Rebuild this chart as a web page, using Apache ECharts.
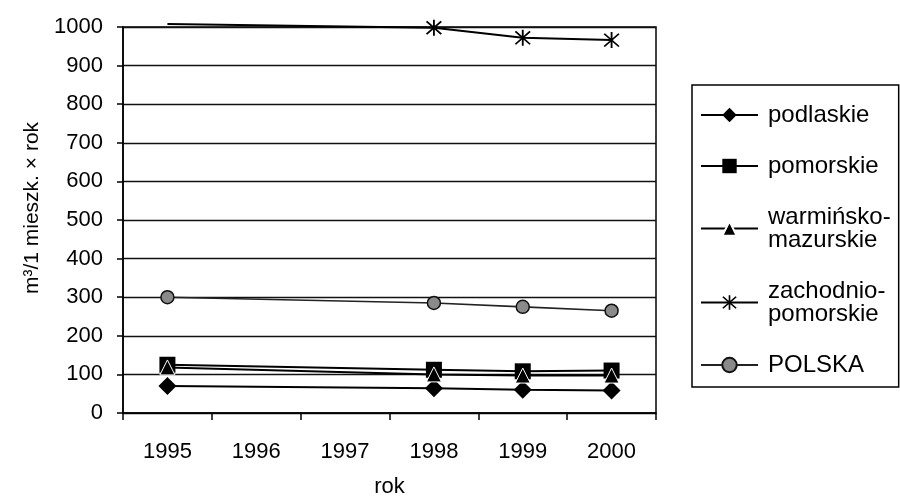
<!DOCTYPE html>
<html>
<head>
<meta charset="utf-8">
<script src="https://cdn.jsdelivr.net/npm/echarts@6/dist/echarts.min.js"></script>
<style>html,body{margin:0;padding:0;background:#fff;}#c{width:900px;height:497px;}</style>
</head>
<body>
<div id="c"></div>
<script>
const categories = ['1995', '1996', '1997', '1998', '1999', '2000'];
const podlaskie = [70, null, null, 64, 60, 58];
const pomorskie = [125, null, null, 112, 108, 110];
const warminsko = [118, null, null, 100, 97, 97];
const zachodnio = [1008, null, null, 998, 972, 966];
const polska = [300, null, null, 285, 275, 265];
const seriesNames = ['podlaskie', 'pomorskie', 'warmińsko-\nmazurskie', 'zachodnio-\npomorskie', 'POLSKA'];

const FONT = '"Liberation Sans", Arial, sans-serif';
const asterisk = 'path://M9,0H11V20H9Z M1.3,2.7L2.7,1.3L18.7,17.3L17.3,18.7Z M17.3,1.3L18.7,2.7L2.7,18.7L1.3,17.3Z';

function mk(name, data, symbol, size, extra) {
  return Object.assign({
    name: name,
    type: 'line',
    data: data,
    connectNulls: true,
    symbol: symbol,
    symbolSize: size,
    lineStyle: { color: '#000', width: 2 },
    itemStyle: { color: '#000' },
    emphasis: { disabled: true },
    animation: false
  }, extra || {});
}

const chart = echarts.init(document.getElementById('c'), null, { renderer: 'canvas' });
chart.setOption({
  backgroundColor: '#fff',
  animation: false,
  textStyle: { fontFamily: FONT, color: '#000' },
  grid: {
    left: 123, right: 244, top: 27, bottom: 84,
    containLabel: false,
    outerBoundsMode: 'none',
    show: true, borderColor: '#000', borderWidth: 1.5, backgroundColor: 'transparent'
  },
  legend: {
    orient: 'vertical',
    left: 692, top: 85,
    padding: [18, 8, 10, 8],
    itemGap: 27,
    itemWidth: 57,
    itemHeight: 18,
    borderColor: '#000', borderWidth: 1.5,
    textStyle: { fontFamily: FONT, fontSize: 24, lineHeight: 23, color: '#000', padding: [0, 0, 0, 5] },
    data: seriesNames
  },
  xAxis: {
    type: 'category',
    data: categories,
    boundaryGap: true,
    name: 'rok',
    nameLocation: 'middle',
    nameGap: 63,
    nameTextStyle: { fontFamily: FONT, fontSize: 22, color: '#000' },
    axisLine: { lineStyle: { color: '#000', width: 1.5 } },
    axisTick: { show: true, interval: 0, length: 7, lineStyle: { color: '#000', width: 1.5 } },
    axisLabel: { interval: 0, margin: 28, fontFamily: FONT, fontSize: 22, color: '#000' },
    splitLine: { show: false }
  },
  yAxis: {
    type: 'value',
    min: 0, max: 1000, interval: 100,
    name: 'm³/1 mieszk. × rok',
    nameLocation: 'middle',
    nameRotate: 90,
    nameGap: 80,
    nameTextStyle: { fontFamily: FONT, fontSize: 21, color: '#000', padding: [0, 0, 0, 24] },
    axisLine: { show: true, lineStyle: { color: '#000', width: 1.5 } },
    axisTick: { show: true, length: 6, lineStyle: { color: '#000', width: 1.5 } },
    axisLabel: { margin: 20, fontFamily: FONT, fontSize: 22, color: '#000', formatter: v => String(v) },
    splitLine: { show: true, lineStyle: { color: '#111', width: 1.3 } }
  },
  series: [
    mk(seriesNames[0], podlaskie, 'diamond', 18),
    mk(seriesNames[1], pomorskie, 'rect', 16),
    mk(seriesNames[2], warminsko, 'triangle', 15, { itemStyle: { color: '#000', borderColor: '#fff', borderWidth: 1 } }),
    mk(seriesNames[3], zachodnio.map((v, i) => i === 0 ? { value: v, symbol: 'none' } : v), asterisk, 16, { clip: false }),
    mk(seriesNames[4], polska, 'circle', 13, {
      lineStyle: { color: '#222', width: 1.6 },
      itemStyle: { color: '#8a8a8a', borderColor: '#111', borderWidth: 1.5 }
    })
  ]
});
</script>
</body>
</html>
